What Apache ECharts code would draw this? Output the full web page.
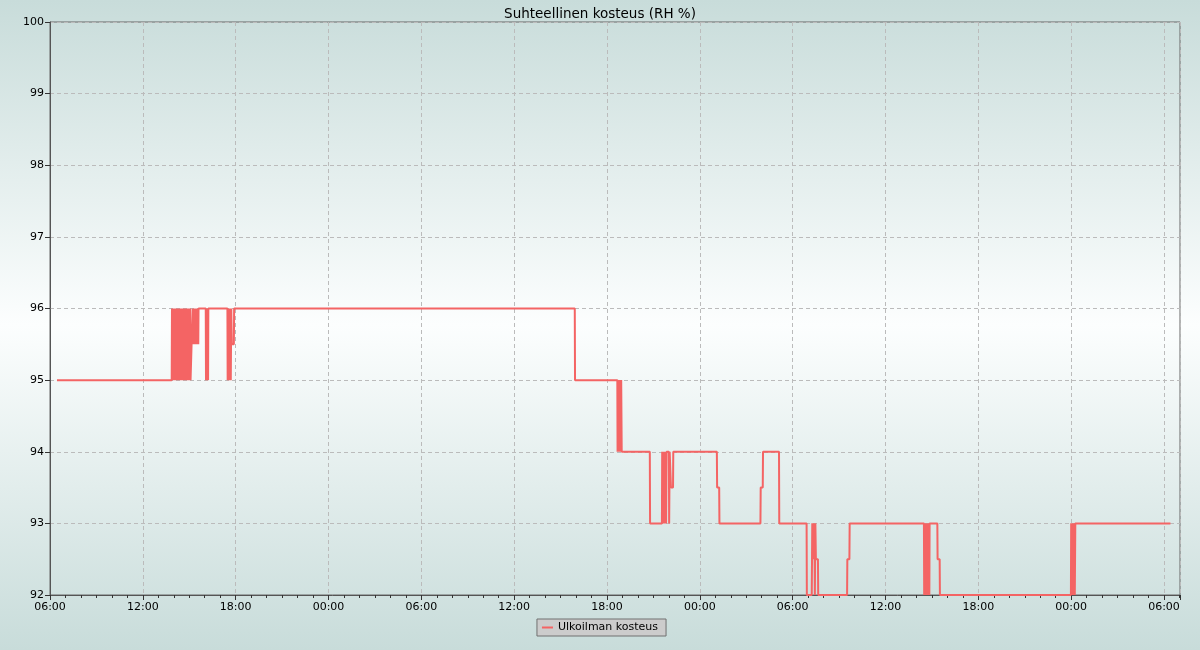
<!DOCTYPE html>
<html>
<head>
<meta charset="utf-8">
<script src="https://cdn.jsdelivr.net/npm/echarts@6/dist/echarts.min.js"></script>
<style>
html,body{margin:0;padding:0;width:1200px;height:650px;overflow:hidden;}
#chart{width:1200px;height:650px;}
</style>
</head>
<body>
<div id="chart"></div>
<script>
// ---- data ----
const chartTitle = 'Suhteellinen kosteus (RH %)';
const seriesName = 'Ulkoilman kosteus';
const dayDates = ['2024-01-15', '2024-01-16', '2024-01-17', '2024-01-18'];
const axisStart = '2024-01-15 06:00';
const axisEnd = '2024-01-18 07:02';
const yTicks = [92, 93, 94, 95, 96, 97, 98, 99, 100];

// readings, [time, RH %] per day
const day1 = [
  ['06:27',95],['13:52',95],
  ['13:53',96],['13:55',95],['13:57',96],['13:59',95],['14:01',96],['14:03',95],['14:05',96],
  ['14:07',95],['14:09',96],['14:11',95],['14:13',96],['14:15',95],['14:17',96],['14:19',95],
  ['14:21',96],['14:23',95],['14:24',96],['14:28',96],
  ['14:29',95],['14:31',96],['14:33',95],['14:35',96],['14:37',95],['14:39',96],['14:41',95],
  ['14:43',96],['14:45',95],['14:47',96],['14:49',95],['14:51',96],['14:53',95],['14:55',96],
  ['14:57',95],['14:59',96],['15:01',95],['15:03',96],['15:05',95],['15:12',95],
  ['15:13',96],['15:15',95.5],['15:17',96],['15:19',95.5],['15:21',96],['15:23',95.5],
  ['15:25',96],['15:27',95.5],['15:29',96],['15:31',95.5],['15:33',96],['15:35',95.5],
  ['15:36',96],['16:04',96],
  ['16:05',95],['16:07',96],['16:09',95],['16:11',96],['16:13',95],['16:14',96],['17:28',96],
  ['17:29',95],['17:31',96],['17:33',95],['17:35',96],['17:37',95],['17:39',96],['17:41',95],
  ['17:43',96],['17:45',95.5],['17:53',95.5],['17:54',96]
];
const day2 = [
  ['15:55',96],['15:56',95],['18:40',95],
  ['18:41',94],['18:43',95],['18:45',94],['18:47',95],['18:49',94],['18:51',95],['18:53',94],
  ['18:55',95],['18:57',94],['20:46',94],['20:47',93],['21:33',93],
  ['21:34',94],['21:36',93],['21:38',94],['21:40',93],['21:42',94],['21:44',93],['21:46',94],
  ['21:48',94],['21:49',93],['21:51',94],['22:00',94],['22:01',93],['22:03',94],
  ['22:07',94],['22:08',93.5],['22:16',93.5],['22:17',94]
];
const day3 = [
  ['01:06',94],['01:07',93.5],['01:15',93.5],['01:16',93],
  ['03:55',93],['03:56',93.5],['04:04',93.5],['04:05',94],['05:07',94],['05:08',93],
  ['06:54',93],['06:55',92],['07:14',92],
  ['07:15',92.5],['07:16',93],['07:18',92.5],['07:20',93],['07:22',92.5],['07:24',93],
  ['07:26',92],['07:28',93],['07:30',92.5],['07:38',92.5],['07:39',92],
  ['09:31',92],['09:32',92.5],['09:40',92.5],['09:41',93],['14:29',93],
  ['14:30',92],['14:32',93],['14:34',92],['14:36',93],['14:38',92],['14:40',93],['14:42',92],
  ['14:44',93],['14:46',92],['14:48',93],['14:50',92],['14:51',93],
  ['15:21',93],['15:22',92.5],['15:30',92.5],['15:31',92],['23:59',92]
];
const day4 = [
  ['00:00',93],['00:02',92],['00:04',93],['00:06',92],['00:08',93],['00:10',92],['00:12',93],
  ['00:14',92],['00:16',93],['06:25',93]
];

// ---- build ----
const parseT = s => Date.parse(s.replace(' ', 'T'));
const t0 = parseT(axisStart);
const toHours = s => (parseT(s) - t0) / 3600000;
const seriesData = [];
[day1, day2, day3, day4].forEach((day, d) => {
  day.forEach(([hm, v]) => seriesData.push([toHours(dayDates[d] + ' ' + hm), v]));
});
const xMax = toHours(axisEnd);
const startHour = 6;
const pad = n => (n < 10 ? '0' : '') + n;

const FONT = 'DejaVu Sans';
const chart = echarts.init(document.getElementById('chart'), null, {renderer: 'canvas'});
chart.setOption({
  animation: false,
  backgroundColor: {
    type: 'linear', x: 0, y: 0, x2: 0, y2: 1,
    colorStops: [
      {offset: 0, color: '#c8dcda'},
      {offset: 0.5, color: '#fcfefe'},
      {offset: 1, color: '#c8dcda'}
    ]
  },
  title: {
    text: chartTitle,
    left: 'center',
    top: 2,
    textStyle: {fontFamily: FONT, fontSize: 13.5, fontWeight: 'normal', color: '#000'}
  },
  legend: {
    data: [seriesName],
    left: 'center',
    top: 619,
    backgroundColor: '#cccccc',
    borderColor: '#707070',
    borderWidth: 1,
    borderRadius: 0,
    padding: [3, 8, 3, 5],
    icon: 'rect',
    itemWidth: 11,
    itemHeight: 2,
    itemGap: 5,
    textStyle: {fontFamily: FONT, fontSize: 11, color: '#000'}
  },
  grid: {
    left: 50, top: 22, right: 20, bottom: 55,
    show: true, borderColor: '#666', borderWidth: 1,
    backgroundColor: 'transparent'
  },
  xAxis: {
    type: 'value',
    min: 0,
    max: xMax,
    interval: 6,
    axisLine: {show: true, lineStyle: {color: '#555'}},
    axisTick: {show: true, length: 5, lineStyle: {color: '#333'}},
    minorTick: {show: true, splitNumber: 6, length: 3, lineStyle: {color: '#333'}},
    axisLabel: {
      fontFamily: FONT, fontSize: 11, color: '#000', margin: 7,
      showMaxLabel: false,
      formatter: v => pad(Math.round(startHour + v) % 24) + ':00'
    },
    splitLine: {show: true, lineStyle: {color: '#bbbbbb', type: [4, 3], width: 1}}
  },
  yAxis: {
    type: 'value',
    min: yTicks[0],
    max: yTicks[yTicks.length - 1],
    interval: 1,
    axisLine: {show: true, lineStyle: {color: '#555'}},
    axisTick: {show: true, length: 5, lineStyle: {color: '#333'}},
    axisLabel: {fontFamily: FONT, fontSize: 11, color: '#000', margin: 6},
    splitLine: {show: true, lineStyle: {color: '#bbbbbb', type: [4, 3], width: 1}}
  },
  series: [{
    name: seriesName,
    type: 'line',
    showSymbol: false,
    symbol: 'none',
    data: seriesData,
    color: '#f46464',
    lineStyle: {color: '#f46464', width: 2}
  }]
});
</script>
</body>
</html>
